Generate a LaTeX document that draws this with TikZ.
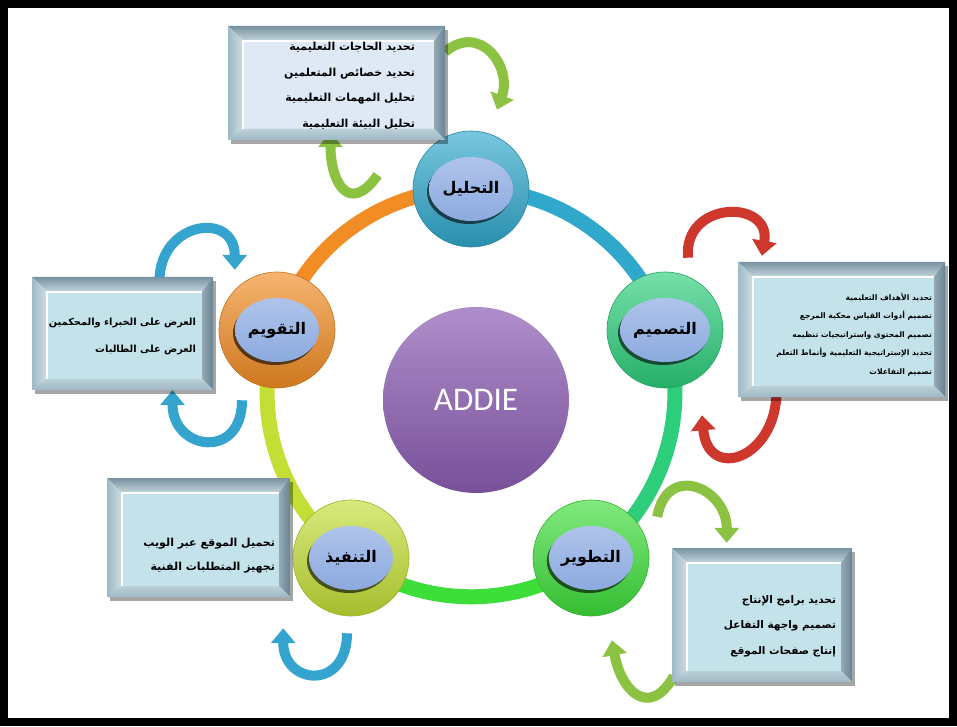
\documentclass[tikz,border=0pt]{standalone}
\usepackage{fontspec}
\usetikzlibrary{arrows.meta, shadows, shapes.geometric, backgrounds}
\newfontfamily\arabicfont[Script=Arabic]{DejaVu Sans}
\newfontfamily\addiefont{Carlito}
\TeXXeTstate=1

\definecolor{tealc}{RGB}{48,168,204}
\definecolor{seagrn}{RGB}{44,206,124}
\definecolor{brgrn}{RGB}{62,222,58}
\definecolor{ylgrn}{RGB}{196,222,54}
\definecolor{orng}{RGB}{242,140,36}
\definecolor{purp}{RGB}{140,94,180}
\definecolor{ellblue}{RGB}{140,170,224}
\definecolor{paneface}{RGB}{196,226,234}
\definecolor{paletop}{RGB}{222,233,245}
\definecolor{bevtop}{RGB}{120,146,162}
\definecolor{bevside}{RGB}{158,186,198}
\definecolor{bevdark}{RGB}{104,132,148}
\definecolor{arrgrn}{RGB}{140,194,66}
\definecolor{arrred}{RGB}{206,56,44}
\definecolor{arrblue}{RGB}{52,164,206}

\tikzset{
  panel/.style={rectangle, inner sep=0pt, fill=paneface,
    drop shadow={shadow xshift=3pt, shadow yshift=-4pt, opacity=.35, fill=black},
    path picture={
      \path (path picture bounding box.north west) coordinate (nw)
            (path picture bounding box.north east) coordinate (ne)
            (path picture bounding box.south east) coordinate (se)
            (path picture bounding box.south west) coordinate (sw);
      % bevelled rim
      \shade[top color=bevtop, bottom color=bevside!60!white] (nw) -- (ne)
        -- ([shift={(-11pt,-15pt)}]ne) -- ([shift={(15pt,-15pt)}]nw) -- cycle;
      \shade[left color=bevside, right color=bevside!50!white] (nw)
        -- ([shift={(15pt,-15pt)}]nw) -- ([shift={(15pt,11pt)}]sw) -- (sw) -- cycle;
      \shade[left color=bevdark!70!white, right color=bevdark] (ne) -- (se)
        -- ([shift={(-11pt,11pt)}]se) -- ([shift={(-11pt,-15pt)}]ne) -- cycle;
      \shade[top color=bevside!70!white, bottom color=bevside] (sw)
        -- ([shift={(15pt,11pt)}]sw) -- ([shift={(-11pt,11pt)}]se) -- (se) -- cycle;
      \draw[white, line width=2pt] ([shift={(15pt,11pt)}]sw)
        -- ([shift={(15pt,-15pt)}]nw) -- ([shift={(-11pt,-15pt)}]ne);
    }},
  note/.style={anchor=east, inner sep=0pt, align=right, font=\arabicfont\bfseries},
  stage/.style={circle, minimum size=116pt, inner sep=0pt,
    top color=#1!65!white, bottom color=#1!85!black, draw=#1!80!black, line width=.6pt},
  tag/.style={ellipse, minimum width=84pt, minimum height=64pt, inner sep=0pt,
    top color=ellblue!70!white, bottom color=ellblue,
    drop shadow={shadow xshift=-2pt, shadow yshift=-3pt, opacity=.6, fill=black},
    font=\arabicfont\bfseries\fontsize{16}{18}\selectfont},
  seg/.style={line width=15pt, looseness=0.94},
  swirl/.style={line width=10pt, -{Triangle[width=24pt,length=15pt]}, looseness=1.5},
}

\begin{document}
\begin{tikzpicture}[x=1pt, y=1pt]
  \useasboundingbox (0,0) rectangle (957,726);
  \draw[line width=8pt] (4,4) rectangle (953,722);

  % centre and the five phases
  \node[circle, minimum size=186pt, top color=purp!70!white, bottom color=purp!85!black,
    text=white, font=\addiefont\fontsize{33}{36}\selectfont] (addie) at (476,326) {ADDIE};

  \node[stage=tealc] (an) at (471,537) {};
  \node[stage=seagrn] (ds) at (665,396) {};
  \node[stage=brgrn] (dv) at (591,168) {};
  \node[stage=ylgrn] (im) at (351,168) {};
  \node[stage=orng] (ev) at (277,396) {};

  \node[tag] (antag) at (an) {\beginR التحليل\endR};
  \node[tag] (dstag) at (ds) {\beginR التصميم\endR};
  \node[tag] (dvtag) at (dv) {\beginR التطوير\endR};
  \node[tag] (imtag) at (im) {\beginR التنفيذ\endR};
  \node[tag] (evtag) at (ev) {\beginR التقويم\endR};

  % task panels
  \node[panel, fill=paletop, minimum width=217pt, minimum height=114pt] (anbox) at (336.5,643) {};
  \node[panel, minimum width=207pt, minimum height=135pt] (dsbox) at (841.5,396.5) {};
  \node[panel, minimum width=180pt, minimum height=134pt] (dvbox) at (762,111) {};
  \node[panel, minimum width=183pt, minimum height=119pt] (imbox) at (198.5,188.5) {};
  \node[panel, minimum width=181pt, minimum height=113pt] (evbox) at (122.5,392.5) {};

  \node[note, font=\arabicfont\bfseries\fontsize{11}{25.5}\selectfont] (antext)
    at ([shift={(-30pt,-3pt)}]anbox.east) {%
    \beginR تحديد الحاجات التعليمية\endR\\
    \beginR تحديد خصائص المتعلمين\endR\\
    \beginR تحليل المهمات التعليمية\endR\\
    \beginR تحليل البيئة التعليمية\endR};
  \node[note, font=\arabicfont\bfseries\fontsize{7.6}{18.5}\selectfont] (dstext)
    at ([shift={(-13pt,-5pt)}]dsbox.east) {%
    \beginR تحديد الأهداف التعليمية\endR\\
    \beginR تصميم أدوات القياس محكية المرجع\endR\\
    \beginR تصميم المحتوى واستراتيجيات تنظيمه\endR\\
    \beginR تحديد الإستراتيجية التعليمية وأنماط التعلم\endR\\
    \beginR تصميم التفاعلات\endR};
  \node[note, font=\arabicfont\bfseries\fontsize{10.5}{25.5}\selectfont] (dvtext)
    at ([shift={(-16pt,-11pt)}]dvbox.east) {%
    \beginR تحديد برامج الإنتاج\endR\\
    \beginR تصميم واجهة التفاعل\endR\\
    \beginR إنتاج صفحات الموقع\endR};
  \node[note, font=\arabicfont\bfseries\fontsize{11}{24}\selectfont] (imtext)
    at ([shift={(-15pt,-18pt)}]imbox.east) {%
    \beginR تحميل الموقع عبر الويب\endR\\
    \beginR تجهيز المتطلبات الفنية\endR};
  \node[note, font=\arabicfont\bfseries\fontsize{9.8}{27}\selectfont] (evtext)
    at ([shift={(-17pt,-3pt)}]evbox.east) {%
    \beginR العرض على الخبراء والمحكمين\endR\\
    \beginR العرض على الطالبات\endR};

  \begin{scope}[on background layer]
    % the cycle ring
    \draw[seg, tealc] (an.center) to[bend left=36] (ds.center);
    \draw[seg, seagrn] (ds.center) to[bend left=36] (dv.center);
    \draw[seg, brgrn] (dv.center) to[bend left=36] (im.center);
    \draw[seg, ylgrn] (im.center) to[bend left=36] (ev.center);
    \draw[seg, orng] (ev.center) to[bend left=36] (an.center);

    % feedback arrows round the panels
    \draw[swirl, arrgrn] ([yshift=-26pt]anbox.north east) to[out=40, in=70, looseness=1.5]
      ([shift={(26pt,21pt)}]an.north);
    \draw[swirl, arrgrn] ([shift={(-35pt,14pt)}]an.west) to[out=235, in=-90, looseness=2]
      ([shift={(-6pt,8pt)}]anbox.south);
    \draw[swirl, arrred] ([shift={(23pt,14pt)}]ds.north) to[out=95, in=80, looseness=2]
      ([shift={(24pt,6pt)}]dsbox.north west);
    \draw[swirl, arrred] ([shift={(-65pt,6pt)}]dsbox.south) to[out=-90, in=-85, looseness=2.2]
      ([shift={(37pt,-27pt)}]ds.south);
    \draw[swirl, arrblue] ([shift={(37pt,-4pt)}]evbox.north) to[out=90, in=90, looseness=2]
      ([shift={(-1pt,19pt)}]ev.north west);
    \draw[swirl, arrblue] ([shift={(-35pt,-12pt)}]ev.south) to[out=-90, in=-90, looseness=2.2]
      ([shift={(50pt,0pt)}]evbox.south);
    \draw[swirl, arrblue] ([shift={(-4pt,-17pt)}]im.south) to[out=-90, in=-90, looseness=2.3]
      ([shift={(-7pt,-31pt)}]imbox.south east);
    \draw[swirl, arrgrn] ([xshift=25pt]dv.north east) to[out=80, in=90, looseness=1.9]
      ([shift={(55pt,5pt)}]dvbox.north west);
    \draw[swirl, arrgrn] ([shift={(2pt,6pt)}]dvbox.south west) to[out=-120, in=-80, looseness=1.8]
      ([shift={(21pt,-24pt)}]dv.south);
  \end{scope}
\end{tikzpicture}
\end{document}
